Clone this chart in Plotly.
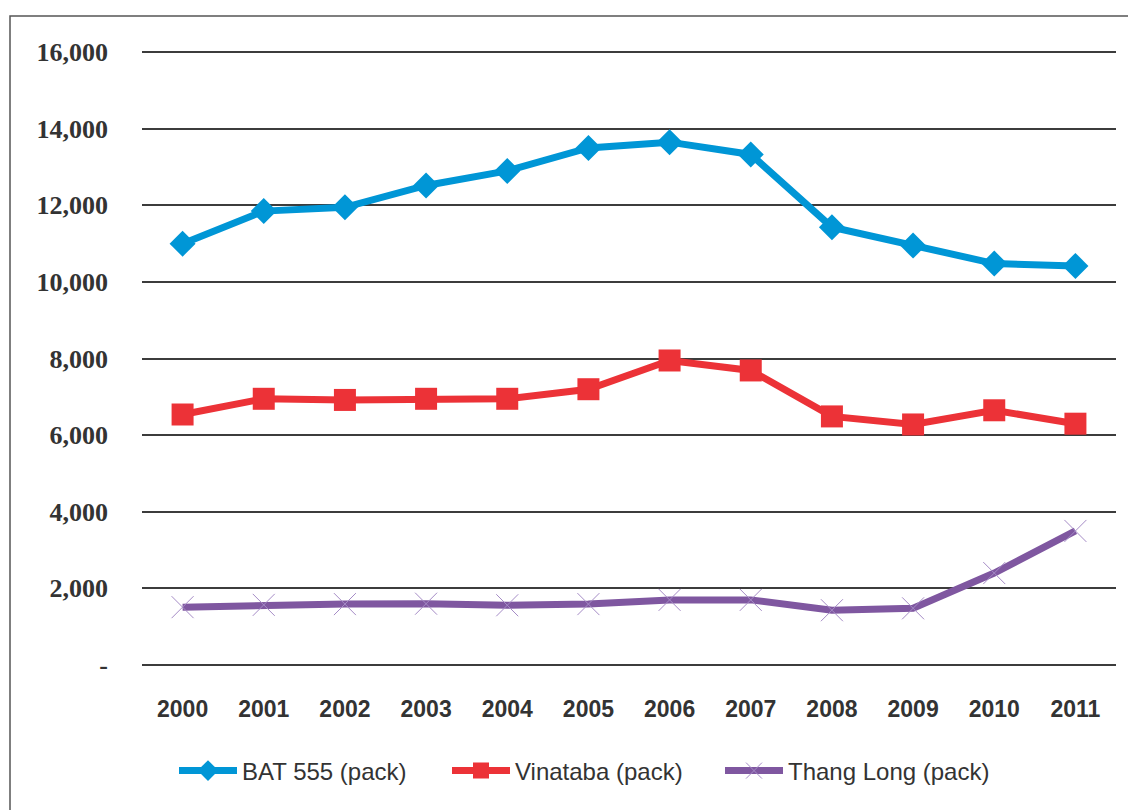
import plotly.graph_objects as go

years = ["2000", "2001", "2002", "2003", "2004", "2005", "2006", "2007", "2008", "2009", "2010", "2011"]
bat555 = [11000, 11850, 11950, 12520, 12900, 13500, 13650, 13330, 11430, 10950, 10480, 10420]
vinataba = [6540, 6950, 6920, 6950, 6950, 7200, 7950, 7690, 6490, 6280, 6650, 6300]
thanglong = [1510, 1570, 1590, 1600, 1560, 1590, 1700, 1700, 1430, 1480, 2400, 3500]

y_tickvals = [0, 2000, 4000, 6000, 8000, 10000, 12000, 14000, 16000]
y_ticktext = ["-", "2,000", "4,000", "6,000", "8,000", "10,000", "12,000", "14,000", "16,000"]

# page body has an 8px margin, so figure coordinates are offset by 8px
OFF = 8
W, H = 1136 - OFF, 810 - OFF
L, R, T, B = 142 - OFF, 1116 - OFF, 51 - OFF, 665 - OFF

fig = go.Figure()
fig.add_trace(go.Scatter(
    x=years, y=bat555, name="BAT 555 (pack)", mode="lines+markers",
    line=dict(color="#0096D6", width=7),
    marker=dict(symbol="diamond", size=20, color="#0096D6"),
))
fig.add_trace(go.Scatter(
    x=years, y=vinataba, name="Vinataba (pack)", mode="lines+markers",
    line=dict(color="#EC3237", width=7),
    marker=dict(symbol="square", size=22, color="#EC3237"),
))
fig.add_trace(go.Scatter(
    x=years, y=thanglong, name="Thang Long (pack)", mode="lines+markers",
    line=dict(color="#7F57A0", width=7),
    marker=dict(symbol="x-thin", size=22, color="#A58BC6",
                line=dict(color="#A58BC6", width=1)),
))

def px(x):
    return (x - OFF - L) / (R - L)

def py(y):
    return (B - (y - OFF)) / (B - T)

fig.update_layout(
    width=W, height=H,
    margin=dict(l=L, r=W - R, t=T, b=H - B, autoexpand=False),
    paper_bgcolor="white", plot_bgcolor="white",
    showlegend=True,
    legend=dict(
        orientation="h", x=px(174), xanchor="left", y=py(771), yanchor="middle",
        font=dict(family="Liberation Sans, Arial", size=24, color="#333333"),
        itemwidth=58,
        entrywidth=200, entrywidthmode="pixels",
        bgcolor="rgba(0,0,0,0)",
    ),
    xaxis=dict(
        type="category", range=[-0.5, 11.5], showgrid=False, zeroline=False, showline=False,
        ticks="", ticklabelstandoff=28,
        tickfont=dict(family="Liberation Sans, Arial", size=23, color="#333333", weight="bold"),
    ),
    yaxis=dict(
        range=[0, 16030], tickvals=y_tickvals, ticktext=y_ticktext,
        showgrid=True, gridcolor="#3C3C3C", gridwidth=2,
        zeroline=True, zerolinecolor="#3C3C3C", zerolinewidth=2,
        showline=False, ticks="", ticklabelstandoff=33,
        tickfont=dict(family="Liberation Serif, Times New Roman", size=26, color="#333333", weight="bold"),
    ),
    shapes=[dict(
        type="rect", xref="paper", yref="paper",
        x0=px(10), x1=px(1150), y0=py(16), y1=py(830),
        line=dict(color="#555555", width=1.5), fillcolor="rgba(0,0,0,0)", layer="above",
    )],
)

fig.write_html("out.html")
